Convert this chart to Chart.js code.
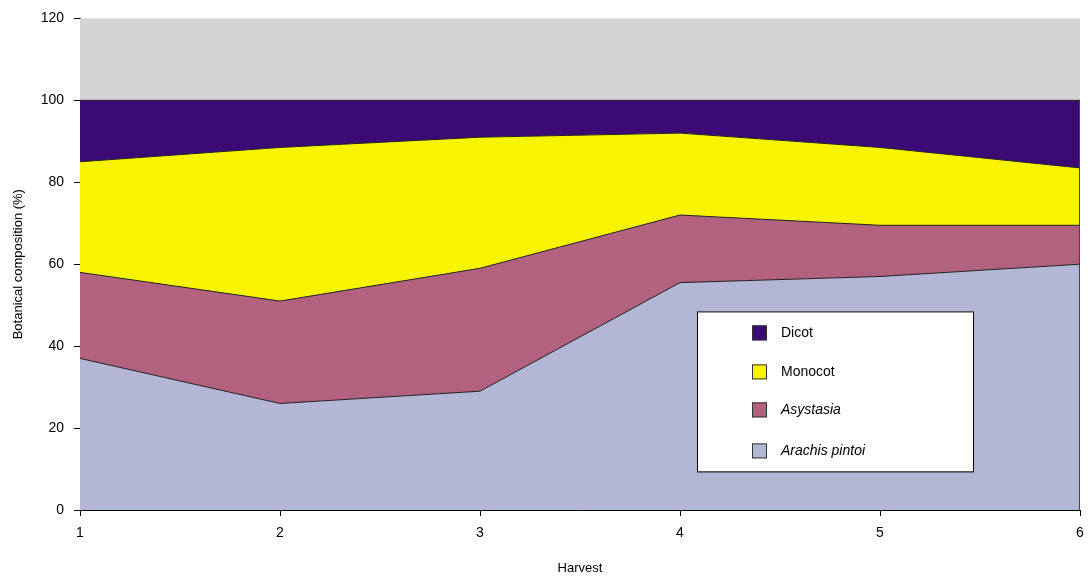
<!DOCTYPE html>
<html>
<head>
<meta charset="utf-8">
<script src="https://cdn.jsdelivr.net/npm/chart.js@4"></script>
<style>
  html, body { margin: 0; padding: 0; background: #fff; }
  #wrap { width: 1090px; height: 580px; }
</style>
</head>
<body>
<div id="wrap"><canvas id="chart" width="1090" height="580"></canvas></div>
<script>
// Harvest numbers along the x axis
const harvests = ['1', '2', '3', '4', '5', '6'];

// Botanical composition (%) per harvest, stacked bottom to top
const arachis = [37, 26, 29, 55.5, 57, 60];
const asystasia = [21, 25, 30, 16.5, 12.5, 9.5];
const monocot = [27, 37.5, 32, 20, 19, 14];
const dicot = [15, 11.5, 9, 8, 11.5, 16.5];

const yTicks = [0, 20, 40, 60, 80, 100, 120];

const FONT = 'Liberation Sans, Arial, sans-serif';

// grey plot background (shows above the 100% stack)
const plotBg = {
  id: 'plotBg',
  beforeDatasetsDraw(chart) {
    const { ctx, chartArea: a } = chart;
    ctx.save();
    ctx.fillStyle = '#d4d4d4';
    ctx.fillRect(a.left, a.top, a.right - a.left, a.bottom - a.top);
    ctx.restore();
  },
  afterDatasetsDraw(chart) {
    // thin right edge of the stacked areas
    const { ctx, chartArea: a, scales } = chart;
    ctx.save();
    ctx.strokeStyle = '#444';
    ctx.lineWidth = 1;
    ctx.beginPath();
    ctx.moveTo(a.right - 0.5, scales.y.getPixelForValue(100));
    ctx.lineTo(a.right - 0.5, a.bottom);
    ctx.stroke();
    ctx.restore();
  },
};

// boxed legend inside the plot, top series first like the original
const boxLegend = {
  id: 'boxLegend',
  afterDraw(chart) {
    const { ctx, chartArea: a } = chart;
    const x = a.left + 617, y = a.top + 293, w = 276, h = 160;
    ctx.save();
    ctx.fillStyle = '#fff';
    ctx.fillRect(x, y, w, h);
    ctx.strokeStyle = '#000';
    ctx.lineWidth = 1;
    ctx.strokeRect(x + 0.5, y + 0.5, w, h);
    const rows = [21, 60, 98, 139];
    const items = chart.data.datasets.slice().reverse();
    items.forEach((ds, i) => {
      const cy = y + rows[i];
      ctx.fillStyle = ds.backgroundColor;
      ctx.fillRect(x + 55, cy - 7, 15, 15);
      ctx.strokeStyle = '#333';
      ctx.strokeRect(x + 55.5, cy - 6.5, 14, 14);
      ctx.fillStyle = '#000';
      ctx.font = (ds.italic ? 'italic ' : '') + '14px ' + FONT;
      ctx.textBaseline = 'middle';
      ctx.fillText(ds.label, x + 84, cy + 1);
    });
    ctx.restore();
  },
};

const ctx = document.getElementById('chart').getContext('2d');
new Chart(ctx, {
  type: 'line',
  data: {
    labels: harvests,
    datasets: [
      { label: 'Arachis pintoi', data: arachis, backgroundColor: '#b4b6d6', fill: 'origin', italic: true },
      { label: 'Asystasia', data: asystasia, backgroundColor: '#b2627e', fill: '-1', italic: true },
      { label: 'Monocot', data: monocot, backgroundColor: '#f8f400', fill: '-1' },
      { label: 'Dicot', data: dicot, backgroundColor: '#3c0a74', fill: '-1' },
    ],
  },
  options: {
    responsive: false,
    animation: false,
    layout: { padding: { top: 18, right: 10, left: 0, bottom: 0 } },
    elements: {
      line: { borderColor: '#222', borderWidth: 1, tension: 0 },
      point: { radius: 0 },
    },
    plugins: {
      legend: { display: false },
      tooltip: { enabled: false },
    },
    scales: {
      x: {
        offset: false,
        grid: { drawOnChartArea: false, drawTicks: true, tickLength: 6, color: '#000' },
        border: { display: true, color: '#000' },
        ticks: { color: '#000', font: { family: FONT, size: 14 }, padding: 9, maxRotation: 0 },
        title: { display: true, text: 'Harvest', color: '#000', font: { family: FONT, size: 13 }, padding: { top: 4, bottom: 4 } },
        afterFit(scale) {
          scale.height = 70;
          scale.paddingLeft = 0;
          scale.paddingRight = 0;
        },
      },
      y: {
        stacked: true,
        min: 0,
        max: 120,
        afterBuildTicks(scale) { scale.ticks = yTicks.map(v => ({ value: v })); },
        grid: { drawOnChartArea: false, drawTicks: true, tickLength: 6, color: '#000' },
        border: { display: true, color: '#000' },
        ticks: { color: '#000', font: { family: FONT, size: 14 }, padding: 10 },
        title: { display: true, text: 'Botanical composition (%)', color: '#000', font: { family: FONT, size: 13 }, padding: { top: 11, bottom: 4 } },
        afterFit(scale) { scale.width = 80; },
      },
    },
  },
  plugins: [plotBg, boxLegend],
});
</script>
</body>
</html>
